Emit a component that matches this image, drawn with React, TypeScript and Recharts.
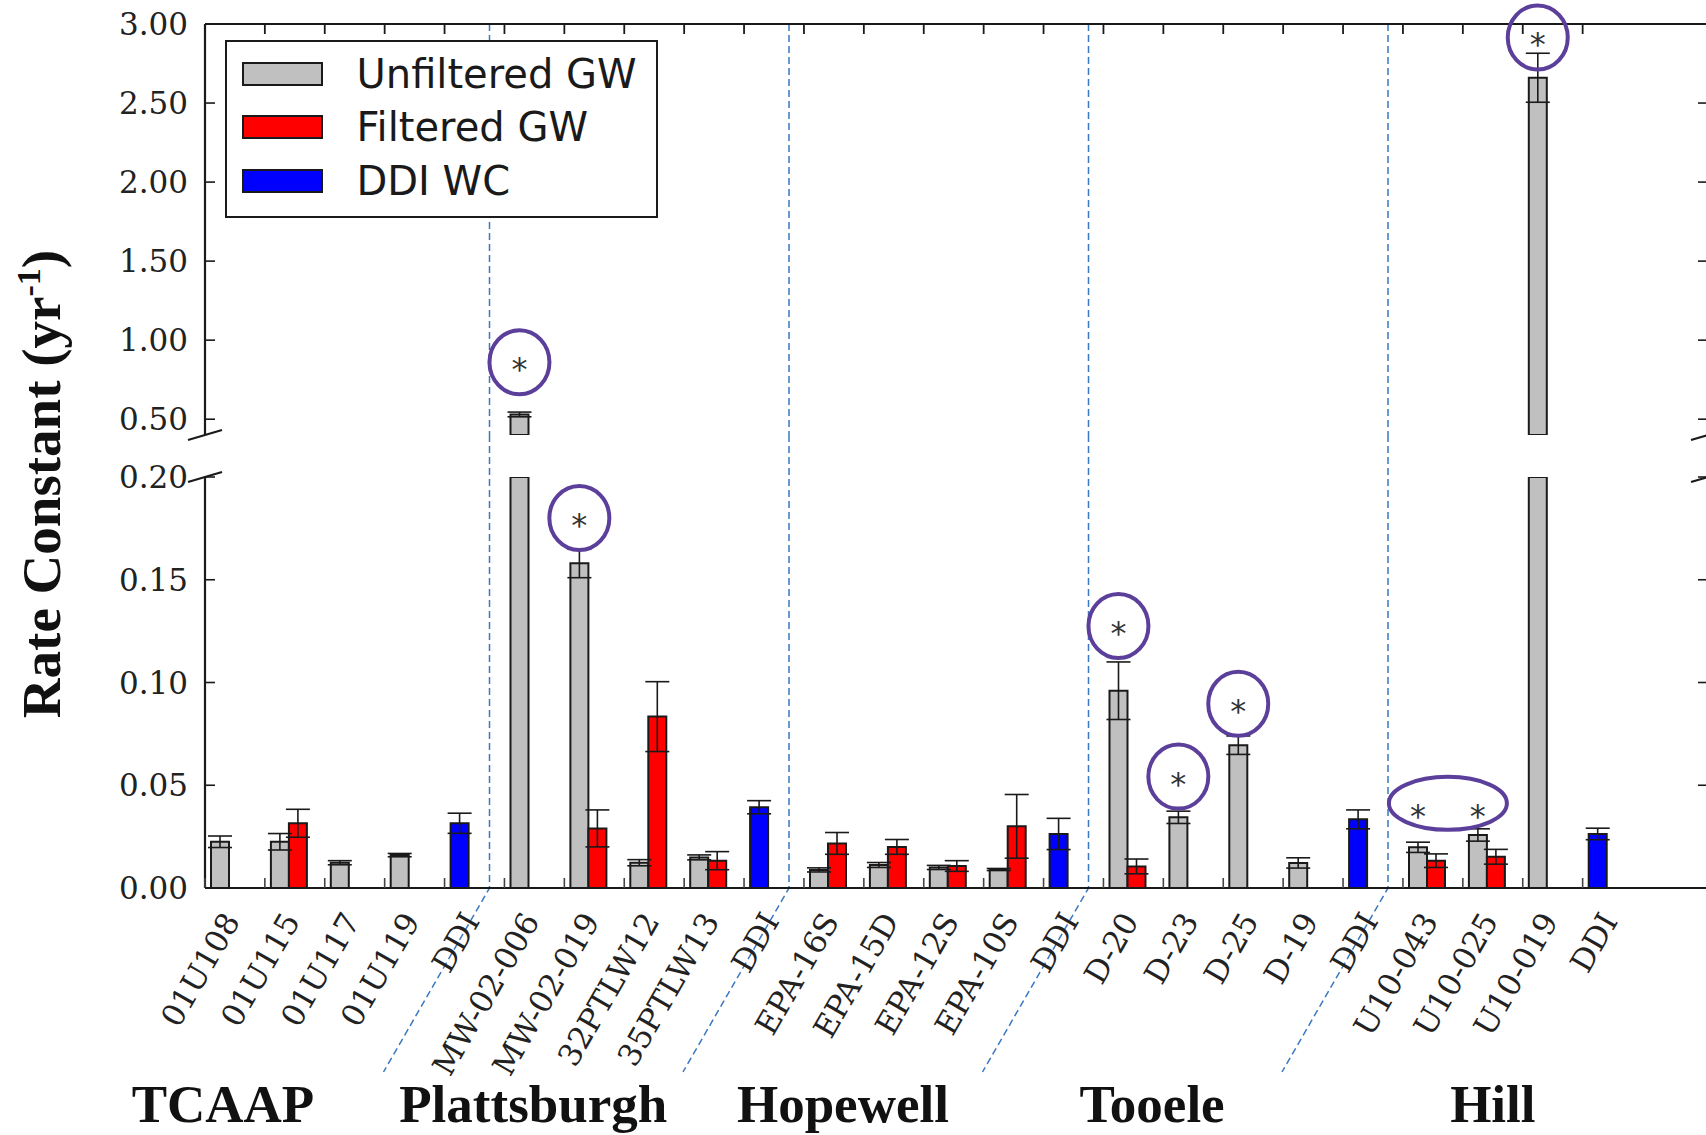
import React from 'react';
import { BarChart, Bar, XAxis, YAxis, ErrorBar, ReferenceLine, ReferenceDot, Legend } from 'recharts';

// ---- Sites and wells -------------------------------------------------------
const groups = ['TCAAP', 'Plattsburgh', 'Hopewell', 'Tooele', 'Hill'];
const wells = [
  '01U108', '01U115', '01U117', '01U119', 'DDI',
  'MW-02-006', 'MW-02-019', '32PTLW12', '35PTLW13', 'DDI',
  'EPA-16S', 'EPA-15D', 'EPA-12S', 'EPA-10S', 'DDI',
  'D-20', 'D-23', 'D-25', 'D-19', 'DDI',
  'U10-043', 'U10-025', 'U10-019', 'DDI',
];
const wellGroup = [0, 0, 0, 0, 0, 1, 1, 1, 1, 1, 2, 2, 2, 2, 2, 3, 3, 3, 3, 3, 4, 4, 4, 4];

// ---- Rate constants (yr^-1) and their errors --------------------------------
const unfilteredGW = [
  0.0225, 0.0225, 0.0123, 0.016, null,
  0.53, 0.158, 0.0123, 0.0149, null,
  0.0088, 0.0112, 0.0100, 0.0090, null,
  0.096, 0.0344, 0.0695, 0.0122, null,
  0.0198, 0.0258, 2.66, null,
];
const unfilteredErr = [
  0.0028, 0.0040, 0.0010, 0.0008, null,
  0.015, 0.007, 0.0015, 0.0012, null,
  0.0010, 0.0012, 0.0010, 0.0005, null,
  0.014, 0.0030, 0.0045, 0.0025, null,
  0.0025, 0.0030, 0.155, null,
];
const filteredGW = [
  null, 0.0315, null, null, null,
  null, 0.029, 0.0834, 0.0133, null,
  0.0217, 0.0200, 0.0107, 0.0300, null,
  0.0105, null, null, null, null,
  0.0133, 0.0152, null, null,
];
const filteredErr = [
  null, 0.0068, null, null, null,
  null, 0.009, 0.0170, 0.0044, null,
  0.0053, 0.0036, 0.0026, 0.0155, null,
  0.0036, null, null, null, null,
  0.0033, 0.0036, null, null,
];
const ddiWC = [
  null, null, null, null, 0.0315,
  null, null, null, null, 0.0393,
  null, null, null, null, 0.0263,
  null, null, null, null, 0.0334,
  null, null, null, 0.0263,
];
const ddiErr = [
  null, null, null, null, 0.0049,
  null, null, null, null, 0.0032,
  null, null, null, null, 0.0076,
  null, null, null, null, 0.0046,
  null, null, null, 0.0028,
];

// Significance marks: well index, level of the mark, number of wells enclosed
const sigWell = [5, 6, 15, 16, 17, 20, 22];
const sigLevel = [0.86, 0.180, 0.1275, 0.0542, 0.0897, 0.0412, 2.915];
const sigSpan = [1, 1, 1, 1, 1, 2, 1];

// ---- Axes -------------------------------------------------------------------
const upperDomain = [0.4, 3.0];
const upperTicks = [0.5, 1.0, 1.5, 2.0, 2.5, 3.0];
const lowerDomain = [0, 0.2];
const lowerTicks = [0, 0.05, 0.1, 0.15, 0.2];

// Site name positions along the axis, in well slots
const groupLabelAt = [0.4, 5.58, 10.75, 15.91, 21.6];

const series = [
  { key: 'unfiltered', err: 'unfilteredErr', name: 'Unfiltered GW', fill: '#c0c0c0', stack: 'a' },
  { key: 'filtered', err: 'filteredErr', name: 'Filtered GW', fill: '#ff0000', stack: undefined },
  { key: 'ddi', err: 'ddiErr', name: 'DDI WC', fill: '#0000ff', stack: 'a' },
];

// ---- Layout -----------------------------------------------------------------
const W = 1706;
const H = 1135;
const CHART_W = 1720;
const PLOT_LEFT = 205;
const PLOT_RIGHT = 1708;
const UPPER_TOP = 24;
const UPPER_BOTTOM = 435;
const LOWER_TOP = 477;
const LOWER_BOTTOM = 888;
const GAP = LOWER_TOP - UPPER_BOTTOM;
const AXIS_T = 1; // thickness reserved by each axis
const PAD_L = -6;
const PAD_R = 71.4;
const STEP = (PLOT_RIGHT - PLOT_LEFT - PAD_L - PAD_R) / wells.length;
const BAND0 = PLOT_LEFT + PAD_L;
const BAR = 18;
const INK = '#1a1a1a';
const SEP_COLOR = '#3a78c0';
const SIG_COLOR = '#5b3f9a';

const keys = wells.map((w, i) => `${groups[wellGroup[i]]}/${w}`);

const rows = keys.map((k, i) => ({
  key: k,
  unfiltered: unfilteredGW[i],
  unfilteredErr: unfilteredErr[i],
  filtered: filteredGW[i],
  filteredErr: filteredErr[i],
  ddi: ddiWC[i],
  ddiErr: ddiErr[i],
}));

// Each panel keeps the bars that reach into its range; error bars only where the
// whole bar top is inside that range.
const panelRows = (min: number, max: number) =>
  rows.map((r) => {
    const out: any = { key: r.key };
    series.forEach((s) => {
      const v = (r as any)[s.key];
      const e = (r as any)[s.err];
      const shown = v != null && v >= min;
      out[s.key] = shown ? v : null;
      out[s.err] = shown && v <= max ? e : null;
    });
    return out;
  });
const upperRows = panelRows(upperDomain[0], upperDomain[1]);
const lowerRows = panelRows(lowerDomain[0], lowerDomain[1]);

const groupStartKeys = keys.filter((k, i) => i > 0 && wellGroup[i] !== wellGroup[i - 1]);

// ---- Axis ticks ---------------------------------------------------------------
const LeftTick = (props: any) => {
  const { x, y, payload } = props;
  return (
    <g>
      <line x1={x} x2={x + 10} y1={y} y2={y} stroke={INK} strokeWidth={1.6} />
      <text x={x - 17} y={y + 11} textAnchor="end" fontFamily="'DejaVu Serif'" fontSize={31} fill="#222">
        {Number(payload.value).toFixed(2)}
      </text>
    </g>
  );
};

const RightTick = (props: any) => {
  const { x, y } = props;
  return <line x1={x} x2={x - 10} y1={y} y2={y} stroke={INK} strokeWidth={1.6} />;
};

const TopTick = (props: any) => {
  const { x, y } = props;
  const tx = x - BAR - 6;
  return <line x1={tx} x2={tx} y1={y} y2={y + 10} stroke={INK} strokeWidth={1.8} />;
};

const BottomTick = (props: any) => {
  const { x, y, payload } = props;
  const i = keys.indexOf(payload.value);
  const tx = x - BAR - 6;
  const ax = x + 12;
  const ay = y + 33;
  return (
    <g>
      <line x1={tx} x2={tx} y1={y} y2={y - 10} stroke="#444" strokeWidth={1.6} />
      <text
        x={ax}
        y={ay}
        transform={`rotate(-60, ${ax}, ${ay})`}
        textAnchor="end"
        fontFamily="'DejaVu Serif'"
        fontSize={31}
        fill="#222"
      >
        {wells[i]}
      </text>
    </g>
  );
};

// ---- Decorations --------------------------------------------------------------
const BreakMarks = (props: any) => {
  const { x1, x2, y1 } = props;
  return (
    <g stroke={INK} strokeWidth={2.2}>
      <line x1={x1 - 17} y1={y1 + 5} x2={x1 + 17} y2={y1 - 5} />
      <line x1={x2 - 17} y1={y1 + 5} x2={x2 + 17} y2={y1 - 5} />
    </g>
  );
};

const Separator = (props: any) => {
  const { x1, y1, y2, lower } = props;
  const x = x1 - 9;
  const top = Math.min(y1, y2);
  const bottom = Math.max(y1, y2);
  const d = lower
    ? `M ${x} ${top - GAP} L ${x} ${bottom} L ${x - 106} ${bottom + 184}`
    : `M ${x} ${top} L ${x} ${bottom}`;
  return <path d={d} fill="none" stroke={SEP_COLOR} strokeWidth={1.5} strokeDasharray="7 4" />;
};

const SigMark = ({ cx, cy, span }: { cx: number; cy: number; span: number }) => {
  const first = cx - BAR / 2;
  const mid = first + ((span - 1) * STEP) / 2;
  const rx = span > 1 ? 59 : 30;
  const ry = span > 1 ? 26.5 : 32;
  const starDy = span > 1 ? 24 : 18;
  const stars = Array.from({ length: span }, (_, k) => first + k * STEP);
  return (
    <g>
      <ellipse cx={mid} cy={cy} rx={rx} ry={ry} fill="none" stroke={SIG_COLOR} strokeWidth={4} />
      {stars.map((sx, k) => (
        <text key={k} x={sx} y={cy + starDy} textAnchor="middle" fontFamily="'DejaVu Sans'" fontSize={32} fill="#333">
          *
        </text>
      ))}
    </g>
  );
};

const LegendBox = () => (
  <div
    style={{
      position: 'relative',
      width: 433,
      height: 178,
      boxSizing: 'border-box',
      border: `2.5px solid ${INK}`,
      background: '#fff',
      fontFamily: "'DejaVu Sans'",
      fontSize: 40,
      color: INK,
    }}
  >
    {series.map((s, i) => {
      const c = 31.5 + i * 53.5;
      return (
        <React.Fragment key={s.key}>
          <div
            style={{
              position: 'absolute',
              left: 14.5,
              top: c - 12,
              width: 81,
              height: 24,
              boxSizing: 'border-box',
              border: `2px solid ${INK}`,
              background: s.fill,
            }}
          />
          <div style={{ position: 'absolute', left: 129.5, top: c - 20, lineHeight: '40px', whiteSpace: 'nowrap' }}>
            {s.name}
          </div>
        </React.Fragment>
      );
    })}
  </div>
);

// ---- One panel of the broken axis ----------------------------------------------
const Panel = ({ kind }: { kind: 'upper' | 'lower' }) => {
  const upper = kind === 'upper';
  const domain = upper ? upperDomain : lowerDomain;
  const ticks = upper ? upperTicks : lowerTicks;
  const height = upper ? LOWER_TOP : H;
  const right = CHART_W - PLOT_RIGHT - AXIS_T;
  const left = PLOT_LEFT - AXIS_T;
  const margin = upper
    ? { top: UPPER_TOP - AXIS_T, right, bottom: LOWER_TOP - UPPER_BOTTOM, left }
    : { top: LOWER_TOP, right, bottom: H - LOWER_BOTTOM - AXIS_T, left };

  return (
    <div style={{ position: 'absolute', left: 0, top: 0 }}>
      <BarChart
        width={CHART_W}
        height={height}
        data={upper ? upperRows : lowerRows}
        margin={margin}
        barSize={BAR}
        barGap={0}
      >
        <XAxis
          dataKey="key"
          orientation={upper ? 'top' : 'bottom'}
          height={AXIS_T}
          interval={0}
          padding={{ left: PAD_L, right: PAD_R }}
          axisLine={{ stroke: INK, strokeWidth: 2.2 }}
          tickLine={false}
          tickSize={0}
          tickMargin={0}
          tick={upper ? <TopTick /> : <BottomTick />}
        />
        <YAxis
          domain={domain}
          ticks={ticks}
          allowDataOverflow
          interval={0}
          width={AXIS_T}
          axisLine={{ stroke: INK, strokeWidth: 2.2 }}
          tickLine={false}
          tickSize={0}
          tickMargin={0}
          tick={<LeftTick />}
        />
        <YAxis
          yAxisId="right"
          orientation="right"
          domain={domain}
          ticks={ticks}
          allowDataOverflow
          interval={0}
          width={AXIS_T}
          axisLine={{ stroke: INK, strokeWidth: 2.2 }}
          tickLine={false}
          tickSize={0}
          tickMargin={0}
          tick={<RightTick />}
        />
        {series.map((s) => (
          <Bar
            key={s.key}
            dataKey={s.key}
            name={s.name}
            stackId={s.stack}
            fill={s.fill}
            stroke={INK}
            strokeWidth={2}
            isAnimationActive={false}
          >
            <ErrorBar dataKey={s.err} width={12} stroke={INK} strokeWidth={1.6} />
          </Bar>
        ))}
        <ReferenceLine
          y={upper ? domain[0] : domain[1]}
          ifOverflow="visible"
          shape={(p: any) => <BreakMarks {...p} />}
        />
        {groupStartKeys.map((k) => (
          <ReferenceLine
            key={k}
            x={k}
            position="start"
            ifOverflow="visible"
            shape={(p: any) => <Separator {...p} lower={!upper} />}
          />
        ))}
        {sigWell.map((w, j) => (
          <ReferenceDot
            key={`sig-${j}`}
            x={keys[w]}
            y={sigLevel[j]}
            r={30}
            shape={(p: any) => <SigMark cx={p.cx} cy={p.cy} span={sigSpan[j]} />}
          />
        ))}
        {upper ? (
          <Legend
            layout="vertical"
            align="center"
            verticalAlign="middle"
            content={<LegendBox />}
            wrapperStyle={{ position: 'absolute', left: 225, top: 40, width: 433, height: 178 }}
          />
        ) : null}
      </BarChart>
    </div>
  );
};

export default function App() {
  return (
    <div style={{ position: 'absolute', left: 0, top: 0, width: W, height: H, overflow: 'hidden', background: '#fff' }}>
      <Panel kind="lower" />
      <Panel kind="upper" />
      <svg width={W} height={H} style={{ position: 'absolute', left: 0, top: 0, pointerEvents: 'none' }}>
        <text
          x={60}
          y={484}
          transform="rotate(-90, 60, 484)"
          textAnchor="middle"
          fontFamily="'Liberation Serif'"
          fontWeight="bold"
          fontSize={55}
          fill="#111"
        >
          Rate Constant (yr
          <tspan dy={-20} fontSize={34}>
            -1
          </tspan>
          <tspan dy={20}>)</tspan>
        </text>
        {groups.map((g, i) => (
          <text
            key={g}
            x={BAND0 + groupLabelAt[i] * STEP}
            y={1122}
            textAnchor="middle"
            fontFamily="'Liberation Serif'"
            fontWeight="bold"
            fontSize={53}
            fill="#111"
          >
            {g}
          </text>
        ))}
      </svg>
    </div>
  );
}
